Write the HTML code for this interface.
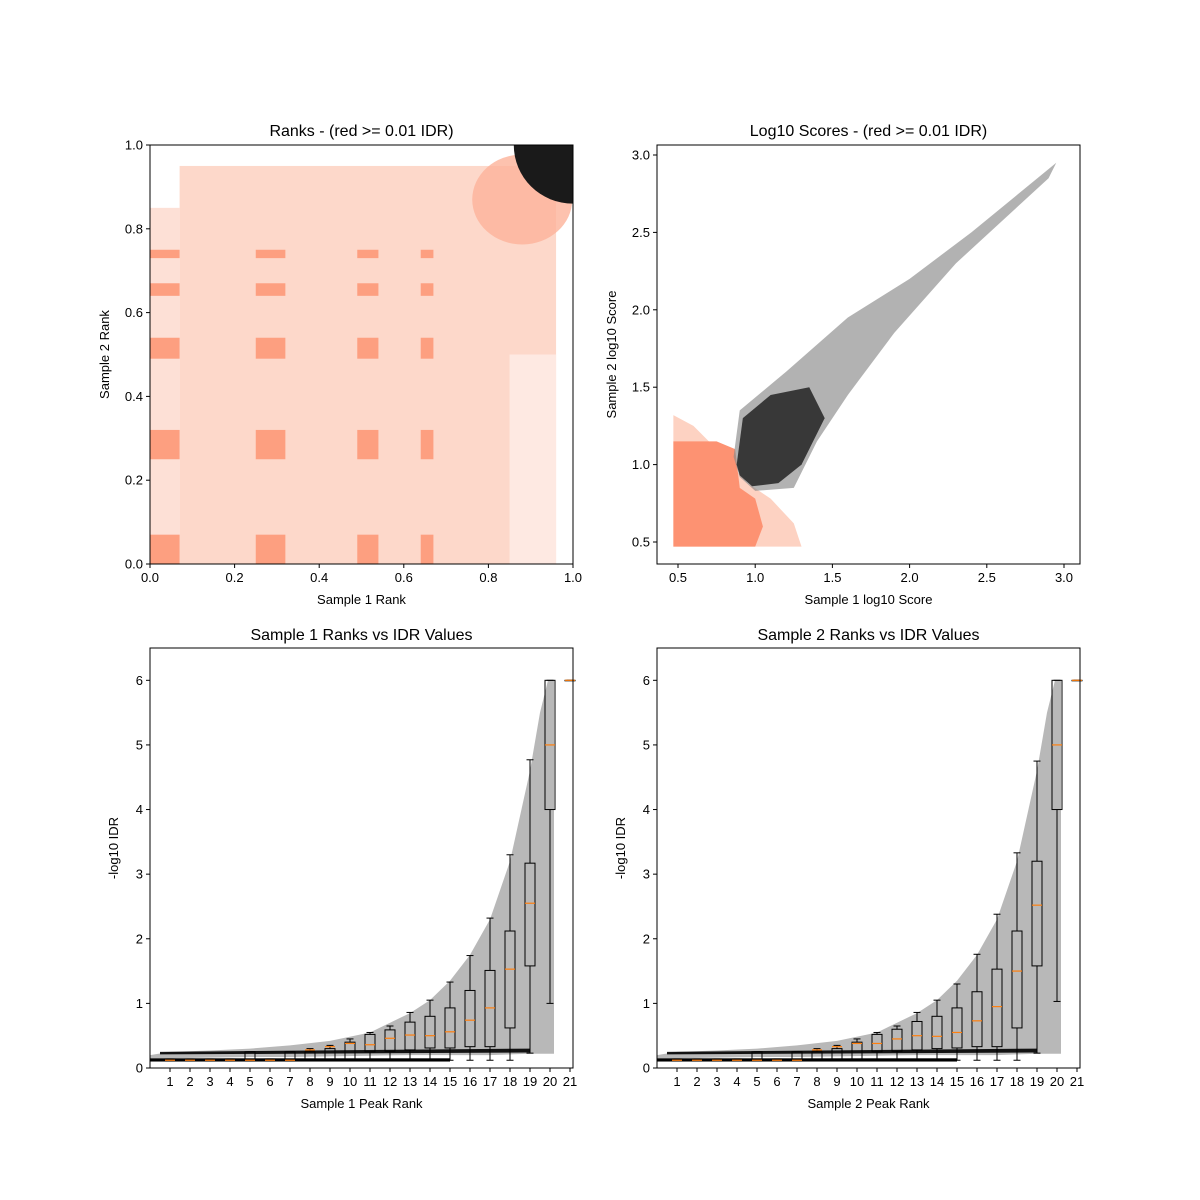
<!DOCTYPE html>
<html><head><meta charset="utf-8"><style>
html,body{margin:0;padding:0;background:#fff;}
svg{display:block;font-family:"Liberation Sans","DejaVu Sans",sans-serif;}
</style></head><body>
<svg id="fig" width="1200" height="1200" viewBox="0 0 1200 1200" xmlns="http://www.w3.org/2000/svg"></svg>
<script>
// ---------- data ----------
const rankTicks = [0.0, 0.2, 0.4, 0.6, 0.8, 1.0];
const rankTickLabels = ["0.0","0.2","0.4","0.6","0.8","1.0"];
const denseBandsX = [[0,0.07],[0.25,0.32],[0.49,0.54],[0.64,0.67]];
const denseBandsY = [[0,0.07],[0.25,0.32],[0.49,0.54],[0.64,0.67],[0.73,0.75]];
const scoreTicks = [0.5,1.0,1.5,2.0,2.5,3.0];
const scoreTickLabels = ["0.5","1.0","1.5","2.0","2.5","3.0"];
const salmonFringeX = [0.47,1.3,1.25,1.1,0.95,0.8,0.6,0.47];
const salmonFringeY = [0.47,0.47,0.62,0.78,0.88,1.05,1.25,1.32];
const salmonCoreX = [0.47,1.0,1.05,1.0,0.9,0.87,0.75,0.47];
const salmonCoreY = [0.47,0.47,0.6,0.78,0.85,1.1,1.15,1.15];
const blackCloudX = [0.86,0.9,1.2,1.6,2.0,2.4,2.95,2.9,2.3,1.9,1.6,1.4,1.25,1.0,0.9];
const blackCloudY = [1.05,1.35,1.6,1.95,2.2,2.5,2.95,2.85,2.3,1.85,1.45,1.15,0.85,0.83,0.92];
const blackCoreX = [0.88,0.92,1.1,1.35,1.45,1.3,1.15,0.98,0.9];
const blackCoreY = [1.0,1.3,1.45,1.5,1.3,1.0,0.88,0.86,0.93];
const rankBins = [1,2,3,4,5,6,7,8,9,10,11,12,13,14,15,16,17,18,19,20,21];
const idrTicks = [0,1,2,3,4,5,6];
const s1Median = [0.12,0.12,0.12,0.12,0.12,0.12,0.12,0.28,0.33,0.38,0.36,0.46,0.51,0.5,0.56,0.74,0.93,1.53,2.55,5.0,6.0];
const s1Q1 = [0.11,0.11,0.11,0.11,0.11,0.11,0.11,0.12,0.12,0.12,0.25,0.26,0.28,0.31,0.31,0.33,0.33,0.62,1.58,4.0,6.0];
const s1Q3 = [0.14,0.14,0.14,0.14,0.25,0.14,0.25,0.25,0.3,0.4,0.52,0.59,0.71,0.8,0.93,1.2,1.51,2.12,3.17,6.0,6.0];
const s1WLo = [0.11,0.11,0.11,0.11,0.11,0.11,0.11,0.12,0.12,0.12,0.12,0.12,0.12,0.12,0.12,0.12,0.12,0.12,0.23,1.0,6.0];
const s1WHi = [0.14,0.14,0.14,0.14,0.25,0.14,0.25,0.3,0.35,0.45,0.55,0.65,0.86,1.05,1.33,1.74,2.32,3.3,4.77,6.0,6.0];
const s2Median = [0.12,0.12,0.12,0.12,0.12,0.12,0.12,0.28,0.33,0.38,0.38,0.45,0.5,0.49,0.55,0.73,0.95,1.5,2.52,5.0,6.0];
const s2Q1 = [0.11,0.11,0.11,0.11,0.11,0.11,0.11,0.12,0.12,0.12,0.25,0.26,0.28,0.3,0.31,0.33,0.33,0.62,1.58,4.0,6.0];
const s2Q3 = [0.14,0.14,0.14,0.14,0.25,0.14,0.25,0.25,0.3,0.4,0.52,0.6,0.72,0.8,0.93,1.18,1.53,2.12,3.2,6.0,6.0];
const s2WLo = [0.11,0.11,0.11,0.11,0.11,0.11,0.11,0.12,0.12,0.12,0.12,0.12,0.12,0.12,0.12,0.12,0.12,0.12,0.23,1.03,6.0];
const s2WHi = [0.14,0.14,0.14,0.14,0.25,0.14,0.25,0.3,0.35,0.45,0.55,0.65,0.86,1.05,1.3,1.76,2.38,3.33,4.75,6.0,6.0];
const envX = [0,1,3,5,7,9,11,13,14,15,16,17,18,19,19.5,19.9,20.2,20.2,19,17,15,13,11,9,7,5,3,1,0];
const envY = [0.2,0.25,0.27,0.3,0.35,0.42,0.55,0.85,1.05,1.35,1.75,2.3,3.2,4.6,5.5,6.0,6.0,0.22,0.22,0.2,0.2,0.2,0.19,0.18,0.17,0.17,0.16,0.15,0.15];

// ---------- helpers ----------
const NS="http://www.w3.org/2000/svg";
const fig=document.getElementById('fig');
function mk(tag,attrs,parent){const e=document.createElementNS(NS,tag);for(const k in attrs)e.setAttribute(k,attrs[k]);(parent||fig).appendChild(e);return e;}
function txt(s,attrs,parent){const e=mk('text',attrs,parent);e.textContent=s;return e;}
function lin(d0,d1,r0,r1){return v=>r0+(v-d0)/(d1-d0)*(r1-r0);}
function axesFrame(L,T,W,H,name){const r=mk('rect',{x:L,y:T,width:W,height:H,fill:'none',stroke:'#000','stroke-width':1});

}
function xTicks(vals,labels,sx,y0,name){vals.forEach((v,i)=>{mk('line',{x1:sx(v),x2:sx(v),y1:y0,y2:y0+4,stroke:'#000'});
const t=txt(labels[i],{x:sx(v),y:y0+18,'font-size':13,'text-anchor':'middle'});

});}
function yTicks(vals,labels,sy,x0,name){vals.forEach((v,i)=>{mk('line',{x1:x0-4,x2:x0,y1:sy(v),y2:sy(v),stroke:'#000'});
const t=txt(labels[i],{x:x0-7,y:sy(v)+4.5,'font-size':13,'text-anchor':'end'});

});}
function title(s,x,y,name){const t=txt(s,{x:x,y:y,'font-size':16,'text-anchor':'middle'});

}
function xlabel(s,x,y,name){const t=txt(s,{x:x,y:y,'font-size':13,'text-anchor':'middle'});

}
function ylabel(s,x,y,name){const t=txt(s,{x:x,y:y,'font-size':13,'text-anchor':'middle',transform:`rotate(-90 ${x} ${y})`});

}
function poly(xs,ys,sx,sy,attrs,parent){return mk('polygon',Object.assign({points:xs.map((x,i)=>sx(x)+','+sy(ys[i])).join(' ')},attrs),parent);}

// ---------- panel 1: ranks ----------
(function(){
const L=150,T=145,W=423,H=419;
const sx=lin(0,1,L,L+W), sy=lin(0,1,T+H,T);
const g=mk('g',{});


mk('rect',{x:sx(0.07),y:sy(0.95),width:sx(0.96)-sx(0.07),height:sy(0)-sy(0.95),fill:'#fdd8ca'},g);
mk('rect',{x:sx(0),y:sy(0.85),width:sx(0.07)-sx(0),height:sy(0)-sy(0.85),fill:'#fde0d6'},g);
mk('rect',{x:sx(0.85),y:sy(0.5),width:sx(0.96)-sx(0.85),height:sy(0)-sy(0.5),fill:'#fee9e2'},g);
denseBandsX.forEach(bx=>denseBandsY.forEach(by=>{
 mk('rect',{x:sx(bx[0]),y:sy(by[1]),width:sx(bx[1])-sx(bx[0]),height:sy(by[0])-sy(by[1]),fill:'#fd9f80'},g);}));
mk('ellipse',{cx:sx(0.88),cy:sy(0.87),rx:50,ry:45,fill:'#fcb39a',opacity:0.8},g);
const bl=mk('path',{d:`M${sx(1)},${sy(1)} L${sx(0.86)},${sy(1)} A${sx(0.14)-sx(0)},${sy(0)-sy(0.14)} 0 0 0 ${sx(1)},${sy(0.86)} Z`,fill:'#1a1a1a'},g);


axesFrame(L,T,W,H,'ranks-axes');
xTicks(rankTicks,rankTickLabels,sx,T+H,'ranks-x');
yTicks(rankTicks,rankTickLabels,sy,L,'ranks-y');
title('Ranks - (red >= 0.01 IDR)',L+W/2,136,'ranks-title');
xlabel('Sample 1 Rank',L+W/2,604,'ranks-x-title');
ylabel('Sample 2 Rank',109,T+H/2,'ranks-y-title');
})();

// ---------- panel 2: scores ----------
(function(){
const L=657,T=145,W=423,H=419;
const sx=lin(0.5,3.0,678,1064), sy=lin(0.5,3.0,542,155);
const g=mk('g',{});


poly(salmonFringeX,salmonFringeY,sx,sy,{fill:'#fdd2c2'},g);
poly(salmonCoreX,salmonCoreY,sx,sy,{fill:'#fd9272'},g);
poly(blackCloudX,blackCloudY,sx,sy,{fill:'#888',opacity:0.65},g);
poly(blackCoreX,blackCoreY,sx,sy,{fill:'#222',opacity:0.85},g);
axesFrame(L,T,W,H,'scores-axes');
xTicks(scoreTicks,scoreTickLabels,sx,T+H,'scores-x');
yTicks(scoreTicks,scoreTickLabels,sy,L,'scores-y');
title('Log10 Scores - (red >= 0.01 IDR)',L+W/2,136,'scores-title');
xlabel('Sample 1 log10 Score',L+W/2,604,'scores-x-title');
ylabel('Sample 2 log10 Score',616,T+H/2,'scores-y-title');
})();

// ---------- panels 3,4: boxplots ----------
function boxPanel(L,lab,med,q1,q3,wlo,whi,key){
const T=648,W=423,H=420;
const sx=lin(0,21.15,L,L+W), sy=lin(0,6.5,T+H,T);
const g=mk('g',{});


poly(envX,envY,sx,sy,{fill:'#000',opacity:0.28},g);
mk('rect',{x:sx(0),y:sy(0.15),width:sx(15)-sx(0),height:sy(0.1)-sy(0.15),fill:'#000'},g);
poly([0.5,19,19,0.5],[0.25,0.3,0.24,0.21],sx,sy,{fill:'#000',opacity:0.9},g);
rankBins.forEach((r,i)=>{
 const bg=mk('g',{});
 
 
 const cx=sx(r), hw=7;
 mk('line',{x1:cx,x2:cx,y1:sy(whi[i]),y2:sy(q3[i]),stroke:'#000'},bg);
 mk('line',{x1:cx,x2:cx,y1:sy(q1[i]),y2:sy(wlo[i]),stroke:'#000'},bg);
 mk('line',{x1:cx-3.5,x2:cx+3.5,y1:sy(whi[i]),y2:sy(whi[i]),stroke:'#000'},bg);
 mk('line',{x1:cx-3.5,x2:cx+3.5,y1:sy(wlo[i]),y2:sy(wlo[i]),stroke:'#000'},bg);
 mk('rect',{x:cx-hw/2-1.5,y:sy(q3[i]),width:hw+3,height:Math.max(0.5,sy(q1[i])-sy(q3[i])),fill:'none',stroke:'#000'},bg);
 mk('line',{x1:cx-5,x2:cx+5,y1:sy(med[i]),y2:sy(med[i]),stroke:'#ff7f0e','stroke-width':1.2},bg);
});
axesFrame(L,T,W,H,key+'-axes');
xTicks(rankBins,rankBins.map(String),sx,T+H,key+'-x');
yTicks(idrTicks,idrTicks.map(String),sy,L,key+'-y');
title(lab+' Ranks vs IDR Values',L+W/2,640,key+'-title');
xlabel(lab+' Peak Rank',L+W/2,1108,key+'-x-title');
ylabel('-log10 IDR',L-32,T+H/2-10,key+'-y-title');
}
boxPanel(150,'Sample 1',s1Median,s1Q1,s1Q3,s1WLo,s1WHi,'sample1-box');
boxPanel(657,'Sample 2',s2Median,s2Q1,s2Q3,s2WLo,s2WHi,'sample2-box');
</script>
</body></html>
